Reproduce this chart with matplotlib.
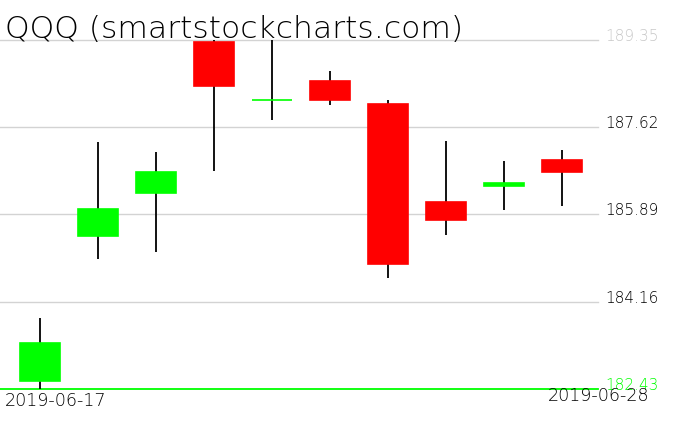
import matplotlib
matplotlib.use("Agg")
import matplotlib.pyplot as plt
from matplotlib import font_manager as fm
from matplotlib.transforms import blended_transform_factory

# ---- data ----
dates = ["2019-06-17", "2019-06-18", "2019-06-19", "2019-06-20", "2019-06-21",
         "2019-06-24", "2019-06-25", "2019-06-26", "2019-06-27", "2019-06-28"]
opens  = [182.59, 185.46, 186.32, 189.30, 188.15, 188.53, 188.08, 186.14, 186.46, 186.97]
highs  = [183.84, 187.32, 187.13, 189.35, 189.35, 188.73, 188.16, 187.34, 186.95, 187.17]
lows   = [182.43, 185.01, 185.14, 186.74, 187.75, 188.06, 184.63, 185.48, 185.98, 186.06]
closes = [183.35, 186.00, 186.72, 188.43, 188.15, 188.16, 184.91, 185.78, 186.51, 186.73]
grid_levels = [189.35, 187.62, 185.89, 184.16, 182.43]
grid_label_colors = ["#c8c8c8", "black", "black", "black", "#00ff00"]
title = "QQQ (smartstockcharts.com)"

# ---- font choice: prefer a light weight ----
def light_family():
    prefs = ["DejaVu Sans", "Roboto", "Open Sans", "Lato", "Inter", "Noto Sans"]
    for name in prefs:
        for f in fm.fontManager.ttflist:
            if f.name != name:
                continue
            w = f.weight
            if isinstance(w, str):
                w = fm.weight_dict.get(w, 400)
            if w <= 300:
                return name, w
    return "DejaVu Sans", 400

fam, wt = light_family()

W, H = 676, 431
fig = plt.figure(figsize=(W / 100, H / 100), dpi=100)
fig.patch.set_facecolor("white")

left_px, right_px, top_px, bot_px = 0, 598, 40.7, 390
ax = fig.add_axes([left_px / W, 1 - bot_px / H, (right_px - left_px) / W, (bot_px - top_px) / H])
ax.set_facecolor("white")
for s in ax.spines.values():
    s.set_visible(False)
ax.set_xticks([])
ax.set_yticks([])

spacing = 58.03
x0 = 39.7
ax.set_xlim(-x0 / spacing, (right_px - x0) / spacing)
ax.set_ylim(grid_levels[-1], grid_levels[0])

# grid lines
for lv in grid_levels[:-1]:
    ax.axhline(lv, color="#d3d3d3", lw=1.0, zorder=0, clip_on=False)
ax.axhline(grid_levels[-1], color="#00ff00", lw=1.3, zorder=0.5, clip_on=False)

body_w = 40 / spacing
for i in range(len(dates)):
    o, h, l, c = opens[i], highs[i], lows[i], closes[i]
    col = "#00ff00" if c >= o else "#ff0000"
    ax.vlines(i, l, h, color="black", lw=1.3, zorder=2, clip_on=False)
    ax.bar(i, c - o if c != o else 0.0, bottom=o, width=body_w, color=col,
           edgecolor=col, linewidth=1.2, zorder=3, clip_on=False)

# right-side price labels
tr = blended_transform_factory(ax.transAxes, ax.transData)
for lv, colr in zip(grid_levels, grid_label_colors):
    ax.text(1 + 7 / (right_px - left_px), lv, f"{lv:.2f}", transform=tr,
            ha="left", va="baseline", fontsize=11, color=colr,
            family=fam, weight=wt, clip_on=False)

# title
fig.text(5 / W, 1 - 38.5 / H, title, ha="left", va="baseline", fontsize=22.6,
         color="black", family=fam, weight=wt)

# date labels
fig.text(5 / W, 1 - 406 / H, dates[0], ha="left", va="baseline", fontsize=12.6,
         color="black", family=fam, weight=wt)
fig.text(649 / W, 1 - 401.5 / H, dates[-1], ha="right", va="baseline", fontsize=12.6,
         color="black", family=fam, weight=wt)

fig.savefig("out.png", dpi=100, facecolor="white")
